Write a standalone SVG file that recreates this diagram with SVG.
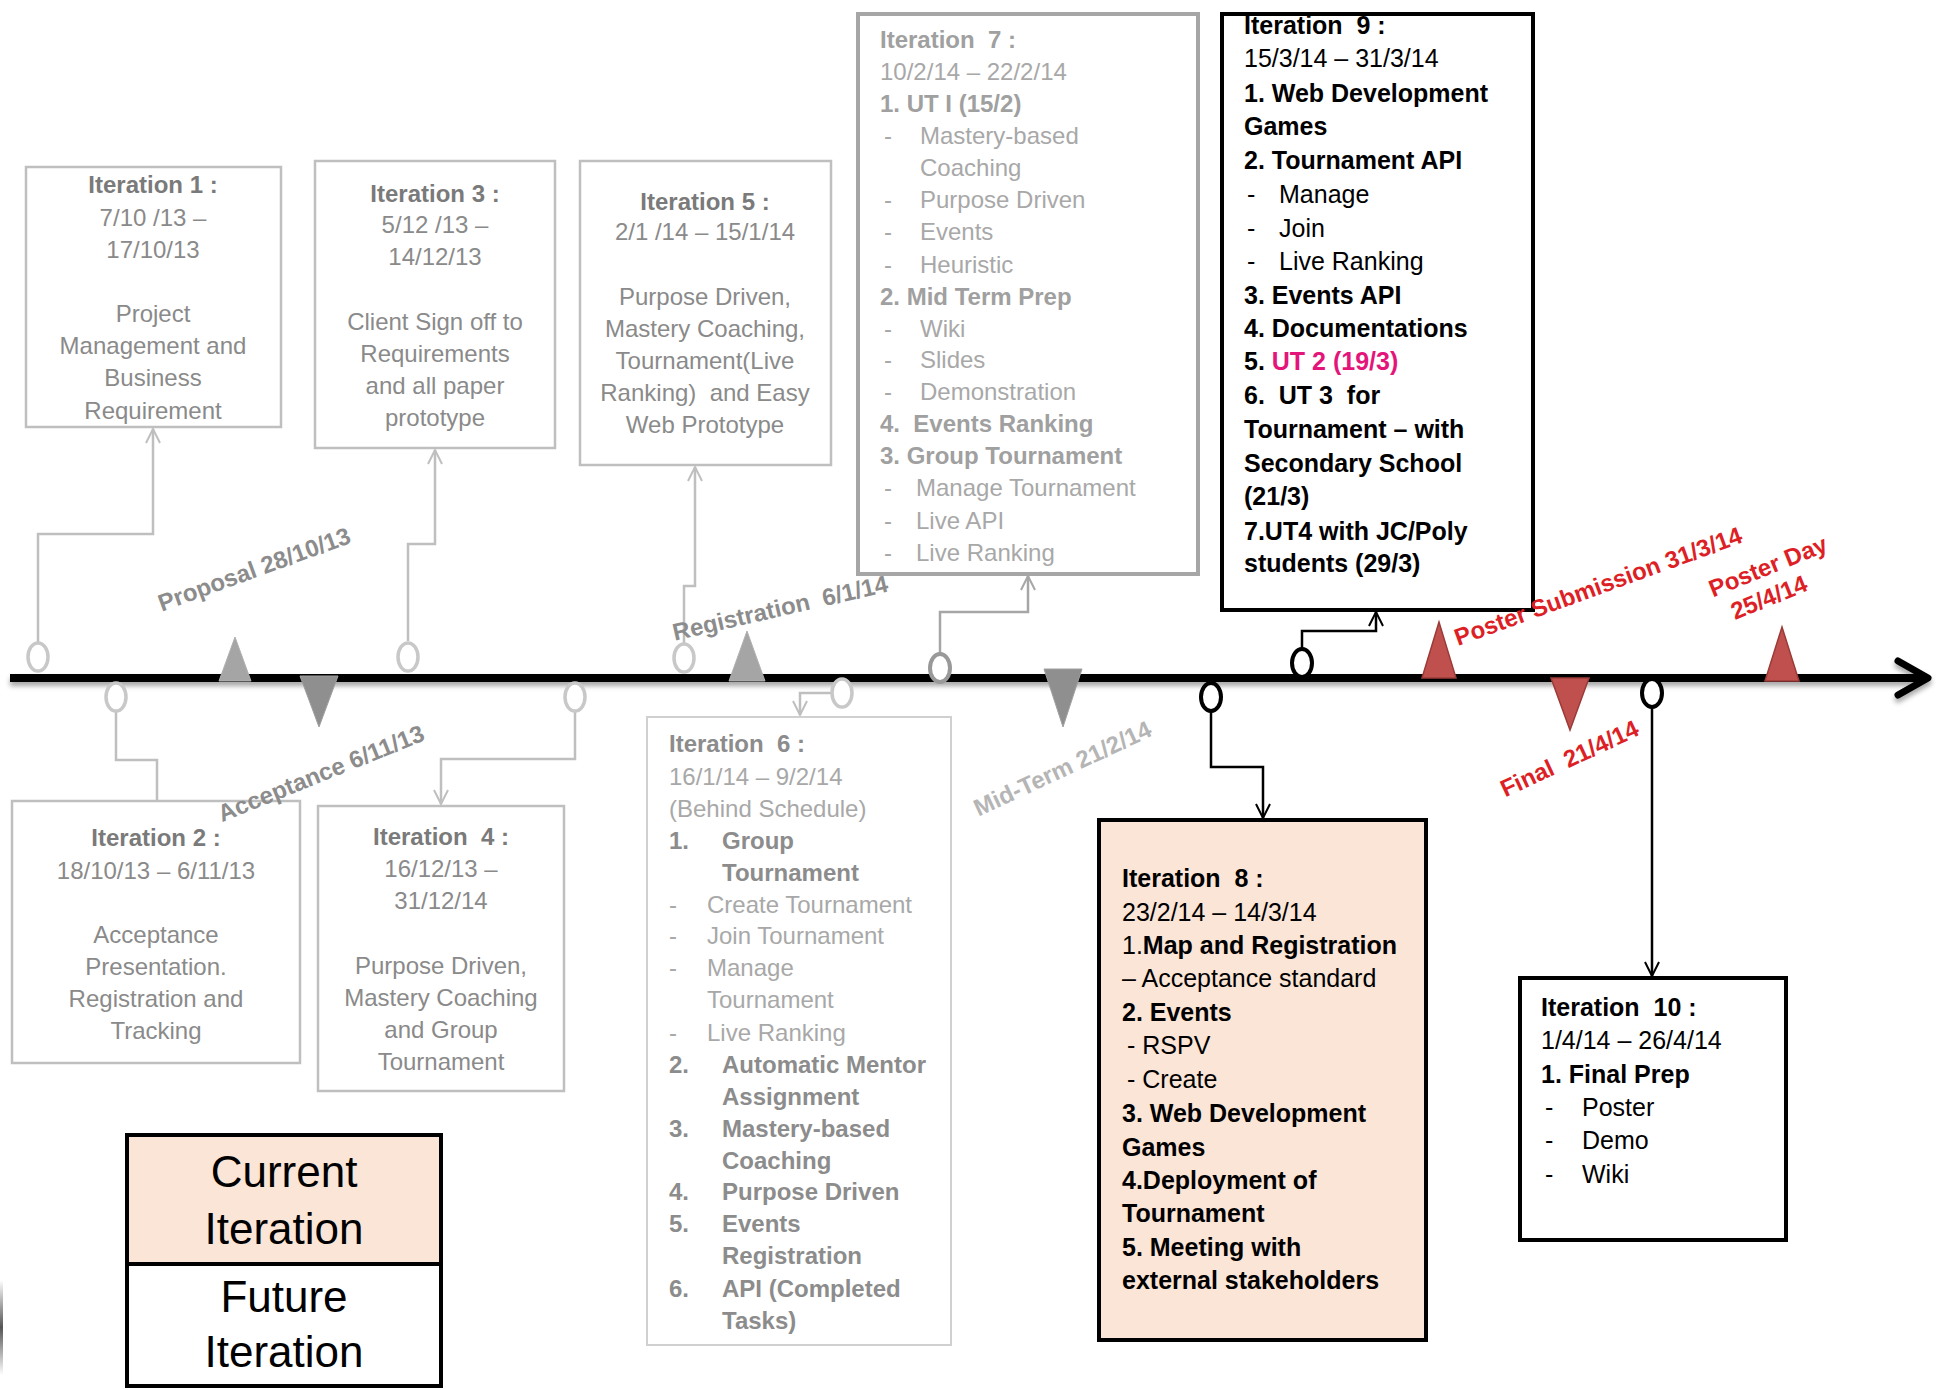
<svg xmlns="http://www.w3.org/2000/svg" width="1939" height="1390" viewBox="0 0 1939 1390">
<style>
text { font-family: "Liberation Sans", Arial, sans-serif; font-size: 24px; }
tspan { white-space: pre; }
.b { font-weight: bold; }
.g1 { fill: #8a8a8a; }
.g1 .b { fill: #7a7a7a; }
.g7 { fill: #a8a8a8; }
.g7 .b { fill: #a0a0a0; }
.g6 { fill: #a8a8a8; }
.g6 .b { fill: #8c8c8c; }
.k { fill: #000; font-size: 25px; }
.pink { fill: #e4157a; }
.red { fill: #dd1f26; font-weight: bold; font-size: 24px; white-space: pre; }
.ms { fill: #8c8c8c; font-weight: bold; font-size: 24px; white-space: pre; }
.ms2 { fill: #b5b5b5; font-weight: bold; font-size: 24px; white-space: pre; }
.bxg { fill: #fff; stroke: #bfbfbf; stroke-width: 2.5; }
.bx7 { fill: #fff; stroke: #a6a6a6; stroke-width: 4; }
.bx6 { fill: #fff; stroke: #d0d0d0; stroke-width: 2; }
.bxk { fill: #fff; stroke: #000; stroke-width: 4; }
.bxc { fill: #fbe5d6; stroke: #000; stroke-width: 4; }
.cg { fill: none; stroke: #bfbfbf; stroke-width: 2.5; }
.cm { fill: none; stroke: #a6a6a6; stroke-width: 2.5; }
.ck { fill: none; stroke: #000; stroke-width: 2.5; }
.og { fill: #fff; stroke: #c8c8c8; stroke-width: 3.5; }
.om { fill: #fff; stroke: #999; stroke-width: 4; }
.ok { fill: #fff; stroke: #000; stroke-width: 4; }
.tg { fill: #a5a5a5; stroke: #b0b0b0; stroke-width: 1; }
.td { fill: #8f8f8f; stroke: #a0a0a0; stroke-width: 1; }
.tr { fill: #c0504d; stroke: #9b3b38; stroke-width: 1.5; }
.leg { font-size: 44px; fill: #000; }
</style>
<defs>
<marker id="ag" viewBox="0 0 16 16" refX="15" refY="8" markerWidth="16" markerHeight="16" markerUnits="userSpaceOnUse" orient="auto"><path d="M1,1 L15,8 L1,15" fill="none" stroke="#bfbfbf" stroke-width="2"/></marker>
<marker id="am" viewBox="0 0 16 16" refX="15" refY="8" markerWidth="16" markerHeight="16" markerUnits="userSpaceOnUse" orient="auto"><path d="M1,1 L15,8 L1,15" fill="none" stroke="#a6a6a6" stroke-width="2"/></marker>
<marker id="ak" viewBox="0 0 16 16" refX="15" refY="8" markerWidth="16" markerHeight="16" markerUnits="userSpaceOnUse" orient="auto"><path d="M1,1 L15,8 L1,15" fill="none" stroke="#000" stroke-width="2"/></marker>
<filter id="sh" x="-5%" y="-100%" width="110%" height="400%"><feDropShadow dx="0" dy="4" stdDeviation="2.5" flood-color="#000" flood-opacity="0.35"/></filter>
<linearGradient id="edge" x1="0" y1="0" x2="0" y2="1"><stop offset="0" stop-color="#fff"/><stop offset="0.5" stop-color="#555"/><stop offset="1" stop-color="#fff"/></linearGradient>
</defs>
<rect width="1939" height="1390" fill="#fff"/>
<rect x="0" y="1280" width="3" height="95" fill="url(#edge)"/>

<g id="timeline" filter="url(#sh)">
<line x1="10" y1="678" x2="1922" y2="678" stroke="#000" stroke-width="8"/>
<polyline points="1898,661 1928,678 1898,695" fill="none" stroke="#000" stroke-width="7" stroke-linecap="round" stroke-linejoin="round"/>
</g>

<g id="connectors">
<path class="cg" d="M38,643 V534 H153 V429" marker-end="url(#ag)"/>
<path class="cg" d="M408,641 V544 H435 V450" marker-end="url(#ag)"/>
<path class="cg" d="M684,643 V586 H695 V467" marker-end="url(#ag)"/>
<path class="cg" d="M116,710 V760 H157 V801"/>
<path class="cg" d="M575,711 V759 H441 V804" marker-end="url(#ag)"/>
<path class="cg" d="M832,693 H800 V715" marker-end="url(#ag)"/>
<path class="cm" d="M940,654 V612 H1028 V576" marker-end="url(#am)"/>
<path class="ck" d="M1211,711 V767 H1263 V818" marker-end="url(#ak)"/>
<path class="ck" d="M1302,649 V631 H1376 V612" marker-end="url(#ak)"/>
<path class="ck" d="M1652,707 V976" marker-end="url(#ak)"/>
</g>

<g id="markers">
<ellipse class="og" cx="38" cy="657" rx="10" ry="14"/>
<ellipse class="og" cx="408" cy="657" rx="10" ry="14"/>
<ellipse class="og" cx="684" cy="658" rx="10" ry="14"/>
<ellipse class="og" cx="116" cy="697" rx="10" ry="14"/>
<ellipse class="og" cx="575" cy="697" rx="10" ry="14"/>
<ellipse class="og" cx="842" cy="693" rx="10" ry="14"/>
<ellipse class="om" cx="940" cy="668" rx="10" ry="14"/>
<ellipse class="ok" cx="1211" cy="697" rx="10" ry="14"/>
<ellipse class="ok" cx="1302" cy="663" rx="10" ry="14"/>
<ellipse class="ok" cx="1652" cy="693" rx="10" ry="14"/>
<polygon class="tg" points="235,637 219,681 251,681"/>
<polygon class="td" points="300,676 338,676 319,727"/>
<polygon class="tg" points="747,631 729,681 765,681"/>
<polygon class="td" points="1044,669 1082,669 1063,727"/>
<polygon class="tr" points="1439,622 1422,678 1456,678"/>
<polygon class="tr" points="1551,678 1589,678 1570,730"/>
<polygon class="tr" points="1782,627 1765,681 1799,681"/>
</g>

<g id="iter1">
<rect class="bxg" x="26" y="167" width="255" height="260"/>
<text class="g1" text-anchor="middle"><tspan class="b" x="153" y="193">Iteration 1 :</tspan><tspan x="153" y="226">7/10 /13 –</tspan><tspan x="153" y="258">17/10/13</tspan><tspan x="153" y="322">Project</tspan><tspan x="153" y="354">Management and</tspan><tspan x="153" y="386">Business</tspan><tspan x="153" y="419">Requirement</tspan></text>
</g>

<g id="iter3">
<rect class="bxg" x="315" y="161" width="240" height="287"/>
<text class="g1" text-anchor="middle"><tspan class="b" x="435" y="202">Iteration 3 :</tspan><tspan x="435" y="233">5/12 /13 –</tspan><tspan x="435" y="265">14/12/13</tspan><tspan x="435" y="330">Client Sign off to</tspan><tspan x="435" y="362">Requirements</tspan><tspan x="435" y="394">and all paper</tspan><tspan x="435" y="426">prototype</tspan></text>
</g>

<g id="iter5">
<rect class="bxg" x="580" y="161" width="251" height="304"/>
<text class="g1" text-anchor="middle"><tspan class="b" x="705" y="210">Iteration 5 :</tspan><tspan x="705" y="240">2/1 /14 – 15/1/14</tspan><tspan x="705" y="305">Purpose Driven,</tspan><tspan x="705" y="337">Mastery Coaching,</tspan><tspan x="705" y="369">Tournament(Live</tspan><tspan x="705" y="401">Ranking)  and Easy</tspan><tspan x="705" y="433">Web Prototype</tspan></text>
</g>

<g id="iter2">
<rect class="bxg" x="12" y="801" width="288" height="262"/>
<text class="g1" text-anchor="middle"><tspan class="b" x="156" y="846">Iteration 2 :</tspan><tspan x="156" y="879">18/10/13 – 6/11/13</tspan><tspan x="156" y="943">Acceptance</tspan><tspan x="156" y="975">Presentation.</tspan><tspan x="156" y="1007">Registration and</tspan><tspan x="156" y="1039">Tracking</tspan></text>
</g>

<g id="iter4">
<rect class="bxg" x="318" y="806" width="246" height="285"/>
<text class="g1" text-anchor="middle"><tspan class="b" x="441" y="845">Iteration  4 :</tspan><tspan x="441" y="877">16/12/13 –</tspan><tspan x="441" y="909">31/12/14</tspan><tspan x="441" y="974">Purpose Driven,</tspan><tspan x="441" y="1006">Mastery Coaching</tspan><tspan x="441" y="1038">and Group</tspan><tspan x="441" y="1070">Tournament</tspan></text>
</g>

<g id="iter7">
<rect class="bx7" x="858" y="14" width="340" height="560"/>
<text class="g7"><tspan class="b" x="880" y="48">Iteration  7 :</tspan><tspan x="880" y="80">10/2/14 – 22/2/14</tspan><tspan class="b" x="880" y="112">1. UT I (15/2)</tspan><tspan x="884" y="144">-</tspan><tspan x="920" y="144">Mastery-based</tspan><tspan x="920" y="176">Coaching</tspan><tspan x="884" y="208">-</tspan><tspan x="920" y="208">Purpose Driven</tspan><tspan x="884" y="240">-</tspan><tspan x="920" y="240">Events</tspan><tspan x="884" y="273">-</tspan><tspan x="920" y="273">Heuristic</tspan><tspan class="b" x="880" y="305">2. Mid Term Prep</tspan><tspan x="884" y="337">-</tspan><tspan x="920" y="337">Wiki</tspan><tspan x="884" y="368">-</tspan><tspan x="920" y="368">Slides</tspan><tspan x="884" y="400">-</tspan><tspan x="920" y="400">Demonstration</tspan><tspan class="b" x="880" y="432">4.  Events Ranking</tspan><tspan class="b" x="880" y="464">3. Group Tournament</tspan><tspan x="884" y="496">-</tspan><tspan x="916" y="496">Manage Tournament</tspan><tspan x="884" y="529">-</tspan><tspan x="916" y="529">Live API</tspan><tspan x="884" y="561">-</tspan><tspan x="916" y="561">Live Ranking</tspan></text>
</g>

<g id="iter6">
<rect class="bx6" x="647" y="717" width="304" height="628"/>
<text class="g6"><tspan class="b" x="669" y="752">Iteration  6 :</tspan><tspan x="669" y="785">16/1/14 – 9/2/14</tspan><tspan x="669" y="817">(Behind Schedule)</tspan><tspan class="b" x="669" y="849">1.</tspan><tspan class="b" x="722" y="849">Group</tspan><tspan class="b" x="722" y="881">Tournament</tspan><tspan x="669" y="913">-</tspan><tspan x="707" y="913">Create Tournament</tspan><tspan x="669" y="944">-</tspan><tspan x="707" y="944">Join Tournament</tspan><tspan x="669" y="976">-</tspan><tspan x="707" y="976">Manage</tspan><tspan x="707" y="1008">Tournament</tspan><tspan x="669" y="1041">-</tspan><tspan x="707" y="1041">Live Ranking</tspan><tspan class="b" x="669" y="1073">2.</tspan><tspan class="b" x="722" y="1073">Automatic Mentor</tspan><tspan class="b" x="722" y="1105">Assignment</tspan><tspan class="b" x="669" y="1137">3.</tspan><tspan class="b" x="722" y="1137">Mastery-based</tspan><tspan class="b" x="722" y="1169">Coaching</tspan><tspan class="b" x="669" y="1200">4.</tspan><tspan class="b" x="722" y="1200">Purpose Driven</tspan><tspan class="b" x="669" y="1232">5.</tspan><tspan class="b" x="722" y="1232">Events</tspan><tspan class="b" x="722" y="1264">Registration</tspan><tspan class="b" x="669" y="1297">6.</tspan><tspan class="b" x="722" y="1297">API (Completed</tspan><tspan class="b" x="722" y="1329">Tasks)</tspan></text>
</g>

<g id="iter9">
<rect class="bxk" x="1222" y="14" width="311" height="596"/>
<text class="k"><tspan class="b" x="1244" y="34">Iteration  9 :</tspan><tspan x="1244" y="67">15/3/14 – 31/3/14</tspan><tspan class="b" x="1244" y="102">1. Web Development</tspan><tspan class="b" x="1244" y="135">Games</tspan><tspan class="b" x="1244" y="169">2. Tournament API</tspan><tspan x="1247" y="203">-</tspan><tspan x="1279" y="203">Manage</tspan><tspan x="1247" y="237">-</tspan><tspan x="1279" y="237">Join</tspan><tspan x="1247" y="270">-</tspan><tspan x="1279" y="270">Live Ranking</tspan><tspan class="b" x="1244" y="304">3. Events API</tspan><tspan class="b" x="1244" y="337">4. Documentations</tspan><tspan class="b" x="1244" y="370">5. <tspan class="pink">UT 2 (19/3)</tspan></tspan><tspan class="b" x="1244" y="404">6.  UT 3  for</tspan><tspan class="b" x="1244" y="438">Tournament – with</tspan><tspan class="b" x="1244" y="472">Secondary School</tspan><tspan class="b" x="1244" y="505">(21/3)</tspan><tspan class="b" x="1244" y="540">7.UT4 with JC/Poly</tspan><tspan class="b" x="1244" y="572">students (29/3)</tspan></text>
</g>

<g id="iter8">
<rect class="bxc" x="1099" y="820" width="327" height="520"/>
<text class="k"><tspan class="b" x="1122" y="887">Iteration  8 :</tspan><tspan x="1122" y="921">23/2/14 – 14/3/14</tspan><tspan x="1122" y="954">1.<tspan class="b">Map and Registration</tspan></tspan><tspan x="1122" y="987">– Acceptance standard</tspan><tspan class="b" x="1122" y="1021">2. Events</tspan><tspan x="1127" y="1054">- RSPV</tspan><tspan x="1127" y="1088">- Create</tspan><tspan class="b" x="1122" y="1122">3. Web Development</tspan><tspan class="b" x="1122" y="1156">Games</tspan><tspan class="b" x="1122" y="1189">4.Deployment of</tspan><tspan class="b" x="1122" y="1222">Tournament</tspan><tspan class="b" x="1122" y="1256">5. Meeting with</tspan><tspan class="b" x="1122" y="1289">external stakeholders</tspan></text>
</g>

<g id="iter10">
<rect class="bxk" x="1520" y="978" width="266" height="262"/>
<text class="k"><tspan class="b" x="1541" y="1016">Iteration  10 :</tspan><tspan x="1541" y="1049">1/4/14 – 26/4/14</tspan><tspan class="b" x="1541" y="1083">1. Final Prep</tspan><tspan x="1545" y="1116">-</tspan><tspan x="1582" y="1116">Poster</tspan><tspan x="1545" y="1149">-</tspan><tspan x="1582" y="1149">Demo</tspan><tspan x="1545" y="1183">-</tspan><tspan x="1582" y="1183">Wiki</tspan></text>
</g>

<g id="legend-current">
<rect class="bxc" x="127" y="1135" width="314" height="129" stroke-width="3"/>
<text class="leg" text-anchor="middle"><tspan x="284" y="1187">Current</tspan><tspan x="284" y="1244">Iteration</tspan></text>
</g>
<g id="legend-future">
<rect class="bxk" x="127" y="1264" width="314" height="122" stroke-width="3"/>
<text class="leg" text-anchor="middle"><tspan x="284" y="1312">Future</tspan><tspan x="284" y="1367">Iteration</tspan></text>
</g>

<g id="milestones">
<text class="ms" text-anchor="middle" transform="translate(257,577) rotate(-20)">Proposal 28/10/13</text>
<text class="ms" text-anchor="middle" transform="translate(324,781) rotate(-22)">Acceptance 6/11/13</text>
<text class="ms" text-anchor="middle" transform="translate(782,616) rotate(-13)">Registration  6/1/14</text>
<text class="ms2" text-anchor="middle" transform="translate(1066,776) rotate(-25)">Mid-Term 21/2/14</text>
<text class="red" text-anchor="middle" transform="translate(1601,594) rotate(-20)">Poster Submission 31/3/14</text>
<text class="red" text-anchor="middle" transform="translate(1771,574) rotate(-22)">Poster Day</text>
<text class="red" text-anchor="middle" transform="translate(1772,605) rotate(-22)">25/4/14</text>
<text class="red" text-anchor="middle" transform="translate(1573,766) rotate(-25)">Final  21/4/14</text>
</g>
</svg>
